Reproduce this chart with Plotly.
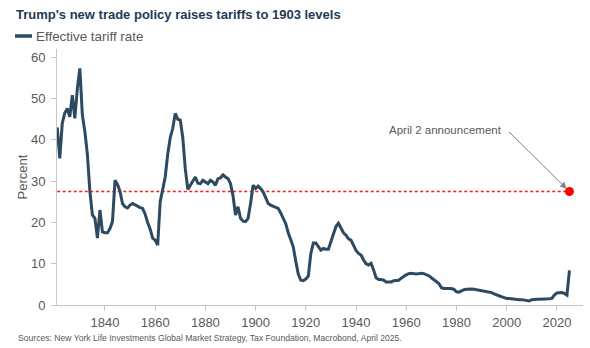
import plotly.graph_objects as go

years = list(range(1821, 2026))
tariff = [
    43.0, 35.5, 44.0, 46.5, 47.6, 45.6, 50.8, 45.2, 52.4, 57.3,   # 1821-1830
    46.0, 42.0, 36.5, 27.5, 21.8, 21.0, 16.2, 23.0, 17.7, 17.5,   # 1831-1840
    17.5, 18.5, 20.2, 30.2, 29.2, 27.5, 24.5, 23.8, 23.5, 24.2,   # 1841-1850
    24.6, 24.2, 23.8, 23.6, 23.4, 22.0, 20.0, 18.4, 16.2, 15.7,   # 1851-1860
    14.5, 25.0, 28.0, 31.0, 36.5, 40.5, 42.8, 46.4, 45.0, 44.8,   # 1861-1870
    40.5, 33.0, 28.0, 29.0, 30.0, 31.0, 29.5, 29.4, 30.2, 29.8,   # 1871-1880
    29.4, 30.2, 29.8, 29.0, 30.6, 30.8, 31.5, 31.0, 30.6, 29.4,   # 1881-1890
    26.5, 21.8, 23.8, 21.0, 20.3, 20.2, 21.0, 24.6, 29.0, 28.2,   # 1891-1900
    28.8, 28.2, 27.4, 26.0, 24.6, 24.2, 23.9, 23.6, 23.4, 22.3,   # 1901-1910
    21.0, 19.7, 17.5, 16.0, 14.1, 10.6, 7.5, 6.0, 5.9, 6.3,       # 1911-1920
    7.0, 12.5, 15.0, 15.0, 14.0, 13.3, 13.7, 13.5, 13.5, 15.5,    # 1921-1930
    17.0, 19.0, 19.8, 18.8, 17.5, 16.9, 16.0, 15.7, 14.5, 13.2,   # 1931-1940
    12.5, 12.1, 10.9, 10.0, 9.7, 10.1, 8.5, 6.6, 6.2, 6.2,        # 1941-1950
    6.0, 5.6, 5.6, 5.6, 5.9, 6.0, 6.0, 6.5, 7.0, 7.3,             # 1951-1960
    7.6, 7.7, 7.6, 7.5, 7.6, 7.7, 7.6, 7.4, 7.1, 6.6,             # 1961-1970
    6.2, 5.7, 5.2, 4.2, 4.0, 4.0, 4.0, 4.0, 3.8, 3.2,             # 1971-1980
    3.1, 3.5, 3.7, 3.8, 3.9, 3.9, 3.8, 3.7, 3.6, 3.5,             # 1981-1990
    3.4, 3.3, 3.2, 3.0, 2.7, 2.4, 2.2, 2.0, 1.8, 1.6,             # 1991-2000
    1.6, 1.5, 1.5, 1.4, 1.3, 1.3, 1.2, 1.1, 1.0, 1.3,             # 2001-2010
    1.4, 1.4, 1.4, 1.4, 1.4, 1.5, 1.5, 1.6, 2.4, 2.9,             # 2011-2020
    3.0, 3.0, 2.8, 2.4, 8.4,                                      # 2021-2025
]

announce_year = 2025
announce_rate = 27.5
announce_label = "April 2 announcement"

x_ticks = [1840, 1860, 1880, 1900, 1920, 1940, 1960, 1980, 2000, 2020]
y_ticks = [0, 10, 20, 30, 40, 50, 60]

title_text = "Trump's new trade policy raises tariffs to 1903 levels"
legend_text = "Effective tariff rate"
source_text = ("Sources: New York Life Investments Global Market Strategy, "
               "Tax Foundation, Macrobond, April 2025.")

LINE = "#2d4a60"
GREY_TXT = "#595959"
AXIS = "#c6c6c6"
FONT = "Liberation Sans, Arial, sans-serif"

fig = go.Figure()

fig.add_trace(go.Scatter(
    x=[years[0], announce_year], y=[announce_rate, announce_rate],
    mode="lines", line=dict(color="#ff1a1a", width=1.4, dash="3px,2.5px"),
    showlegend=False, hoverinfo="skip"))

fig.add_trace(go.Scatter(
    x=years, y=tariff, mode="lines", name=legend_text,
    line=dict(color=LINE, width=3), showlegend=False))

fig.add_trace(go.Scatter(
    x=[announce_year], y=[announce_rate], mode="markers",
    marker=dict(color="#ff0000", size=9), showlegend=False))

fig.update_layout(
    width=590, height=348,
    margin=dict(l=57, r=7, t=49, b=43),
    paper_bgcolor="white", plot_bgcolor="white",
    font=dict(family=FONT, color=GREY_TXT, size=13),
    xaxis=dict(range=[1820.9, 2030.4], tickvals=x_ticks, ticks="outside",
               ticklen=5, tickcolor=AXIS, showline=True, linecolor=AXIS,
               linewidth=1, showgrid=False, zeroline=False,
               tickfont=dict(size=13, color=GREY_TXT)),
    yaxis=dict(range=[0, 62], tickvals=y_ticks, ticks="outside",
               ticklen=5, tickcolor=AXIS, showline=True, linecolor=AXIS,
               linewidth=1, showgrid=False, zeroline=False,
               ticklabelstandoff=3,
               title=dict(text="Percent", font=dict(size=13, color=GREY_TXT),
                          standoff=0),
               tickfont=dict(size=13, color=GREY_TXT)),
)

# Title
fig.add_annotation(xref="paper", yref="paper", x=-43/526, y=1 + (49 - 14) / 256,
                   xanchor="left", yanchor="middle", showarrow=False,
                   text="<b>" + title_text + "</b>",
                   font=dict(size=13, color="#1f3a56", family=FONT))
# Legend
fig.add_shape(type="line", xref="paper", yref="paper",
              x0=-42/526, x1=-25/526, y0=1 + (49 - 36) / 256, y1=1 + (49 - 36) / 256,
              line=dict(color=LINE, width=3.5))
fig.add_annotation(xref="paper", yref="paper", x=-23/526, y=1 + (49 - 36) / 256,
                   xanchor="left", yanchor="middle", showarrow=False,
                   text=legend_text, font=dict(size=13.4, color=GREY_TXT))
# Source
fig.add_annotation(xref="paper", yref="paper", x=-41/526, y=-(338 - 305) / 256,
                   xanchor="left", yanchor="middle", showarrow=False,
                   text=source_text, font=dict(size=8.6, color=GREY_TXT))

# Announcement label and arrow
fig.add_annotation(x=1999.0, y=42.3, xref="x", yref="y", xanchor="right",
                   yanchor="middle", showarrow=False, text=announce_label,
                   font=dict(size=11.5, color=GREY_TXT))
fig.add_annotation(x=announce_year, y=announce_rate, ax=2000.3, ay=42.3,
                   xref="x", yref="y", axref="x", ayref="y", text="",
                   showarrow=True, arrowhead=2, arrowsize=1.3, arrowwidth=1,
                   arrowcolor="#7f7f7f", standoff=4)

fig.write_html("out.html")
